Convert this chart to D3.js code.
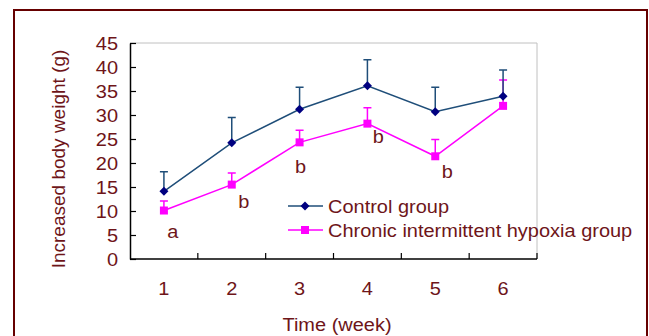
<!DOCTYPE html>
<html lang="en">
	<head>
		<meta charset="UTF-8">
		<title>Increased body weight</title>
		<script src="https://d3js.org/d3.v7.min.js"></script>
		<style>
			body { margin: 0; background: white; }
			text { font-family: 'Liberation Sans', Arial, sans-serif; fill: #6e1519; }
		</style>
	</head>
	<body>
		<div id="chart"></div>
		<script>
			// data
			const weeks = ["1", "2", "3", "4", "5", "6"];
			const controlMean = [14.1, 24.2, 31.2, 36.1, 30.7, 33.9];
			const controlErr = [4.1, 5.3, 4.6, 5.4, 5.1, 5.5];
			const cihMean = [10.1, 15.5, 24.3, 28.2, 21.4, 31.9];
			const cihErr = [2.0, 2.4, 2.5, 3.3, 3.5, 5.4];
			const cihLetters = ["a", "b", "b", "b", "b", ""];
			const yTicks = [0, 5, 10, 15, 20, 25, 30, 35, 40, 45];

			const width = 649, height = 336;
			const plotLeft = 130, plotRight = 537, plotTop = 43, plotBottom = 259;
			const fontSize = 18.5, stretch = 1.08; // the original text looks a bit wide

			const svg = d3.select("#chart").append("svg")
				.attr("width", width)
				.attr("height", height);

			// horizontal text, stretched a bit around its anchor
			function label(parent, x, y, str, anchor) {
				return parent.append("g")
					.attr("transform", "translate(" + x + "," + y + ")")
					.append("text")
					.attr("transform", "scale(" + stretch + ",1)")
					.attr("text-anchor", anchor || "middle")
					.attr("font-size", fontSize)
					.text(str);
			}

			// outer frame
			svg.append("rect")
				.attr("x", 14).attr("y", 10)
				.attr("width", 633).attr("height", 340)
				.attr("fill", "none")
				.attr("stroke", "#660000")
				.attr("stroke-width", 2);

			const x = d3.scaleBand().domain(weeks).range([plotLeft, plotRight]);
			const y = d3.scaleLinear().domain([0, 45]).range([plotBottom, plotTop]);

			// plot area border (grey top/right)
			svg.append("line")
				.attr("x1", plotLeft).attr("x2", plotRight)
				.attr("y1", y(45)).attr("y2", y(45))
				.attr("stroke", "#c0c0c0");
			svg.append("line")
				.attr("x1", plotRight).attr("x2", plotRight)
				.attr("y1", y(45)).attr("y2", y(0))
				.attr("stroke", "#c0c0c0");

			// y axis
			const yAxis = svg.append("g")
				.attr("transform", "translate(" + plotLeft + ",0)")
				.call(d3.axisRight(y).tickValues(yTicks).tickSize(6).tickSizeOuter(0).tickFormat(""));
			yAxis.select(".domain").attr("stroke", "#000").attr("stroke-width", 1.5);
			yAxis.selectAll(".tick line").attr("stroke", "#000").attr("stroke-width", 1.2);

			const yLab = svg.append("g");
			yTicks.forEach(function (d) {
				label(yLab, plotLeft - 12, y(d), d, "end").attr("dy", "0.36em");
			});

			// x axis, ticks between categories
			const xTickPos = d3.range(weeks.length + 1).map(function (i) { return plotLeft + i * x.bandwidth(); });
			svg.append("line")
				.attr("x1", plotLeft).attr("x2", plotRight)
				.attr("y1", plotBottom).attr("y2", plotBottom)
				.attr("stroke", "#000").attr("stroke-width", 1.5);
			svg.append("g").selectAll("line")
				.data(xTickPos.slice(1))
				.enter()
				.append("line")
				.attr("x1", function (d) { return d; })
				.attr("x2", function (d) { return d; })
				.attr("y1", plotBottom).attr("y2", plotBottom - 6)
				.attr("stroke", "#000").attr("stroke-width", 1.2);

			const xLab = svg.append("g");
			weeks.forEach(function (d) {
				label(xLab, x(d) + x.bandwidth() / 2, 295, d);
			});

			// axis titles
			svg.append("text")
				.attr("transform", "translate(65,159) rotate(-90)")
				.attr("text-anchor", "middle")
				.attr("font-size", 19)
				.text("Increased body weight (g)");
			label(svg, 337, 331, "Time (week)");

			const cx = function (i) { return x(weeks[i]) + x.bandwidth() / 2; };

			function drawSeries(means, errs, lineColor, markerColor, shape) {
				const g = svg.append("g");
				// error bars (upper only)
				g.selectAll(".err")
					.data(means)
					.enter()
					.append("path")
					.attr("d", function (d, i) {
						const px = cx(i), y0 = y(d), y1 = y(d + errs[i]);
						return "M" + px + "," + y0 + "V" + y1 + "M" + (px - 4) + "," + y1 + "H" + (px + 4);
					})
					.attr("stroke", lineColor)
					.attr("stroke-width", 1.5)
					.attr("fill", "none");
				g.append("path")
					.datum(means)
					.attr("d", d3.line().x(function (d, i) { return cx(i); }).y(function (d) { return y(d); }))
					.attr("stroke", lineColor)
					.attr("stroke-width", 1.5)
					.attr("fill", "none");
				g.selectAll(".mk")
					.data(means)
					.enter()
					.append("path")
					.attr("transform", function (d, i) { return "translate(" + cx(i) + "," + y(d) + ")"; })
					.attr("d", shape)
					.attr("fill", markerColor);
			}

			const diamond = "M0,-4.5L4.5,0L0,4.5L-4.5,0Z";
			const square = "M-4,-4H4V4H-4Z";

			drawSeries(cihMean, cihErr, "#ff00ff", "#ff00ff", square);
			drawSeries(controlMean, controlErr, "#1f4e79", "#000080", diamond);

			// significance letters, nudged below each hypoxia point
			const letterNudge = [[9, 27], [12, 23], [1, 31], [11, 19], [12, 22], [0, 0]];
			const letters = svg.append("g");
			cihMean.forEach(function (d, i) {
				if (!cihLetters[i]) return;
				label(letters, cx(i) + letterNudge[i][0], y(d) + letterNudge[i][1], cihLetters[i]);
			});

			// legend
			const legend = [
				{ name: "Control group", line: "#1f4e79", marker: "#000080", shape: diamond },
				{ name: "Chronic intermittent hypoxia group", line: "#ff00ff", marker: "#ff00ff", shape: square }
			];
			const lg = svg.append("g").selectAll("g")
				.data(legend)
				.enter()
				.append("g")
				.attr("transform", function (d, i) { return "translate(288," + (206 + i * 24) + ")"; });
			lg.append("line")
				.attr("x1", 0).attr("x2", 35)
				.attr("stroke", function (d) { return d.line; })
				.attr("stroke-width", 1.5);
			lg.append("path")
				.attr("transform", "translate(17,0)")
				.attr("d", function (d) { return d.shape; })
				.attr("fill", function (d) { return d.marker; });
			lg.each(function (d) {
				label(d3.select(this), 40, 0, d.name, "start").attr("dy", "0.36em");
			});
		</script>
	</body>
</html>
